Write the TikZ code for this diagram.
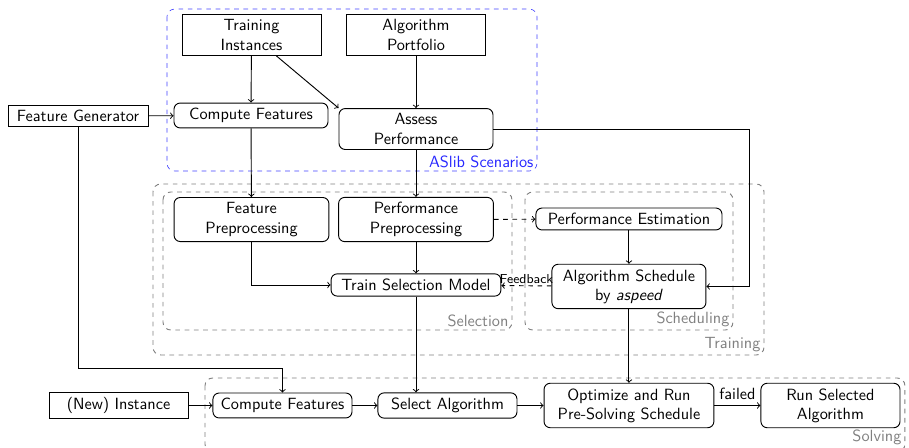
\documentclass[tikz,border=0pt]{standalone}
\usepackage{tikz}
\usetikzlibrary{positioning,calc}
\begin{document}
\begin{tikzpicture}[font=\sffamily\fontsize{10.5}{12.4}\selectfont, semithick]

        % Setup the styles for blocks and groups
        \tikzset{block/.style={draw, rectangle, align=center,
                               minimum width=3.16cm},
                 task/.style={block, rounded corners=4pt},
                 group/.style={dashed, rounded corners=5pt, draw=gray},
                 group label/.style={anchor=south east, text=gray,
                                     inner sep=2pt},
                 flow/.style={->, >=to}}

        \useasboundingbox (0,0) rectangle (20.66,-10.18);

        % Draw the groups
        \draw[group, thin, draw=blue!75] (3.795,-0.205) rectangle (12.205,-3.886);
        \node[group label, text=blue!85] (aslib) at (12.205,-3.886) {ASlib Scenarios};
        \draw[group] (3.477,-4.182) rectangle (17.364,-8.068);
        \node[group label] (training) at (17.364,-8.068) {Training};
        \draw[group] (3.705,-4.364) rectangle (11.636,-7.5);
        \node[group label] (selection) at (11.636,-7.5) {Selection};
        \draw[group] (11.932,-4.364) rectangle (16.659,-7.5);
        \node[group label] (scheduling) at (16.659,-7.5) {Scheduling};
        \draw[group] (4.659,-8.591) rectangle (20.568,-10.27);
        \node[group label] (solving) at (20.568,-10.18) {Solving};

        % Draw the blocks
        \node[block] at (5.716,-0.795)  (inst)   {Training\\Instances};
        \node[block] at (9.455,-0.795)  (port)   {Algorithm\\Portfolio};
        \node[block, minimum width=3.18cm] at (1.773,-2.636) (gen) {Feature Generator};
        \node[task, minimum width=3.5cm] at (5.705,-2.625) (feat)  {Compute Features};
        \node[task, minimum width=3.5cm] at (9.455,-2.932) (assess) {Assess\\Performance};

        \node[task, minimum width=3.52cm] at (5.716,-4.989) (fprep) {Feature\\Preprocessing};
        \node[task, minimum width=3.52cm] at (9.455,-4.989) (pprep) {Performance\\Preprocessing};
        \node[task, minimum width=3.86cm] at (9.455,-6.477) (train) {Train Selection Model};
        \node[task, minimum width=4.23cm] at (14.295,-4.977) (estim) {Performance Estimation};
        \node[task, minimum width=3.5cm] at (14.295,-6.511) (sched) {Algorithm Schedule\\by \textit{aspeed}};

        \node[block] at (2.693,-9.216)  (new)    {(New) Instance};
        \node[task] at (6.42,-9.216)    (feat2)  {Compute Features};
        \node[task] at (10.17,-9.216)   (select) {Select Algorithm};
        \node[task, minimum width=3.86cm] at (14.295,-9.216) (presolve) {Optimize and Run\\Pre-Solving Schedule};
        \node[task] at (18.875,-9.216)  (run)    {Run Selected\\Algorithm};

        % Connect the blocks
        \draw[flow] (inst) -- (feat);
        \draw[flow] (inst) -- (assess.north west);
        \draw[flow] (port) -- (assess);
        \draw[flow] (gen) -- (feat);
        \draw[flow] (feat) -- (fprep);
        \draw[flow] (assess) -- (pprep);
        \draw[flow] (assess.east) -| (17.023,-6.511) -- (sched.east);
        \draw[flow] (fprep) |- (train);
        \draw[flow] (pprep) -- (train);
        \draw[flow, dashed] (pprep) -- (estim);
        \draw[flow] (estim) -- (sched);
        \draw[flow, dashed] (sched) -- node[above, inner sep=1pt, font=\sffamily\fontsize{8.4}{10}\selectfont] {Feedback} (train);
        \draw[flow] (train) -- (train |- select.north);
        \draw[flow] (sched) -- (presolve);
        \draw[flow] (gen) |- (6.42,-8.364) -- (feat2);
        \draw[flow] (new) -- (feat2);
        \draw[flow] (feat2) -- (select);
        \draw[flow] (select) -- (presolve);
        \draw[flow] (presolve) -- node[above] {failed} (run);

\end{tikzpicture}
\end{document}
